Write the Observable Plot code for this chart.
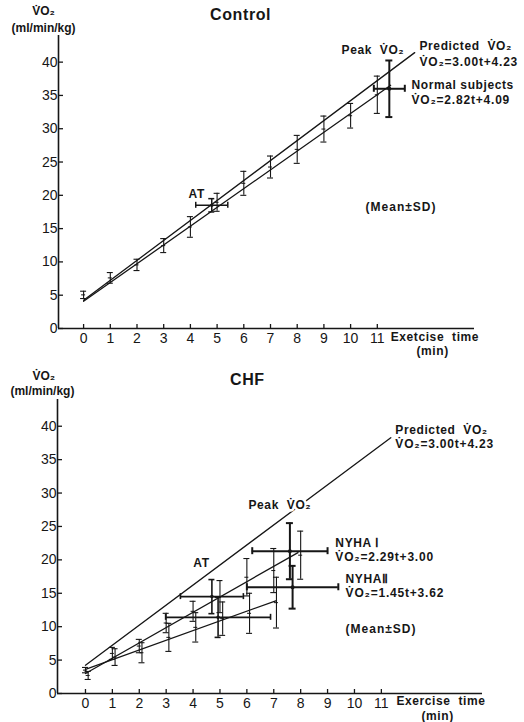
<!DOCTYPE html>
<html>
<head>
<meta charset="utf-8">
<script src="https://cdn.jsdelivr.net/npm/d3@7"></script>
<script src="https://cdn.jsdelivr.net/npm/@observablehq/plot@0.6"></script>
<style>
  html, body { margin: 0; padding: 0; background: #fff; }
  #chart { width: 524px; height: 722px; overflow: hidden; }
  #chart svg { display: block; }
</style>
</head>
<body>
<div id="chart"></div>
<script>
// ---------- Tick labels ----------
const xTicks = [0, 1, 2, 3, 4, 5, 6, 7, 8, 9, 10, 11];
const yTicks = [0, 5, 10, 15, 20, 25, 30, 35, 40];

// ---------- Control panel: normal subjects (mean ± SD per minute) ----------
const ctrlTime = [0, 1, 2, 3, 4, 5, 6, 7, 8, 9, 10, 11];
const ctrlMean = [5.05, 7.6, 9.55, 12.45, 15.25, 18.95, 21.8, 24.25, 26.9, 29.95, 31.95, 35.1];
const ctrlSD   = [0.55, 0.8, 0.85, 1.05, 1.55, 1.35, 1.8, 1.65, 2.1, 1.95, 1.85, 2.8];
// peak and AT (time mean, time SD, VO2 mean, VO2 SD)
const ctrlPeak = [11.45, 0.58, 36.0, 4.25];
const ctrlAT   = [4.8, 0.6, 18.5, 1.0];

// ---------- CHF panel ----------
const nyha1Time = [0, 1, 2, 3, 4, 5, 6, 7, 8];
const nyha1Mean = [3.5, 6.0, 7.1, 10.55, 12.3, 14.5, 17.4, 18.4, 20.7];
const nyha1SD   = [0.4, 0.9, 1.0, 1.45, 1.5, 2.4, 2.8, 3.3, 3.6];
const nyha2Time = [0.1, 1.1, 2.1, 3.1, 4.1, 5.1, 6.1, 7.1];
const nyha2Mean = [2.7, 5.45, 6.1, 8.4, 9.9, 11.2, 12.0, 13.6];
const nyha2SD   = [0.6, 1.25, 1.5, 2.1, 2.2, 2.5, 3.0, 3.8];
const nyha1Peak = [7.6, 1.4, 21.3, 4.2];
const nyha2Peak = [7.7, 1.7, 15.9, 3.2];
const nyha1AT   = [4.7, 1.17, 14.5, 2.55];
const nyha2AT   = [4.93, 1.95, 11.4, 3.0];

// ---------- Regression lines (slope, intercept, last t) ----------
const ctrlLineNames  = ["Predicted", "Normal subjects"];
const ctrlSlopes     = [3.00, 2.82];
const ctrlIntercepts = [4.23, 4.09];
const ctrlLineEnd    = [12.4, 11.5];
const chfLineNames   = ["Predicted", "NYHA I", "NYHA II"];
const chfSlopes      = [3.00, 2.29, 1.45];
const chfIntercepts  = [4.23, 3.00, 3.62];
const chfLineEnd     = [11.35, 7.9, 7.1];

const INK = "#161616";
const FONT = "'Liberation Sans', Arial, Helvetica, sans-serif";
const SPACING = {eq: "0.8px", sp: "0.6px", mean: "1px", title: "0.6px"};

function lineData(names, slopes, intercepts, ends) {
  const out = [];
  names.forEach((n, i) => {
    out.push({name: n, t: 0, v: intercepts[i]});
    out.push({name: n, t: ends[i], v: slopes[i] * ends[i] + intercepts[i]});
  });
  return out;
}
function seriesData(ts, ms, sds) {
  return ts.map((t, i) => ({t, m: ms[i], lo: ms[i] - sds[i], hi: ms[i] + sds[i]}));
}
function vBars(data, sw, cap) {
  return [
    Plot.ruleX(data, {x: "t", y1: "lo", y2: "hi", stroke: INK, strokeWidth: sw}),
    Plot.ruleY(data, {y: "lo", x1: "t", x2: "t", insetLeft: -cap, insetRight: -cap, stroke: INK, strokeWidth: sw}),
    Plot.ruleY(data, {y: "hi", x1: "t", x2: "t", insetLeft: -cap, insetRight: -cap, stroke: INK, strokeWidth: sw}),
    Plot.ruleY(data, {y: "m", x1: "t", x2: "t", insetLeft: -2, insetRight: -2, stroke: INK, strokeWidth: 1})
  ];
}
function crossBar(p, sw, cap, r) {
  const d = [{t: p[0], tlo: p[0] - p[1], thi: p[0] + p[1], m: p[2], lo: p[2] - p[3], hi: p[2] + p[3]}];
  return [
    Plot.ruleX(d, {x: "t", y1: "lo", y2: "hi", stroke: INK, strokeWidth: sw}),
    Plot.ruleY(d, {y: "lo", x1: "t", x2: "t", insetLeft: -cap, insetRight: -cap, stroke: INK, strokeWidth: sw}),
    Plot.ruleY(d, {y: "hi", x1: "t", x2: "t", insetLeft: -cap, insetRight: -cap, stroke: INK, strokeWidth: sw}),
    Plot.ruleY(d, {y: "m", x1: "tlo", x2: "thi", stroke: INK, strokeWidth: sw}),
    Plot.ruleX(d, {x: "tlo", y1: "m", y2: "m", insetTop: -cap, insetBottom: -cap, stroke: INK, strokeWidth: sw}),
    Plot.ruleX(d, {x: "thi", y1: "m", y2: "m", insetTop: -cap, insetBottom: -cap, stroke: INK, strokeWidth: sw}),
    Plot.dot(d, {x: "t", y: "m", r, fill: INK})
  ];
}
function axes(xmin) {
  return [
    Plot.ruleY([0], {stroke: INK, strokeWidth: 1.6}),
    Plot.ruleX([xmin], {stroke: INK, strokeWidth: 1.6}),
    Plot.ruleX(xTicks, {x: d => d, y1: 0, y2: 0, insetTop: -4, stroke: INK, strokeWidth: 1.3}),
    Plot.ruleY(yTicks, {y: d => d, x1: xmin, x2: xmin, insetRight: -5, stroke: INK, strokeWidth: 1.3}),
    Plot.text(xTicks, {x: d => d, y: 0, dy: 10, text: d => String(d), fontSize: 14, fill: INK,
      fontFamily: "'Liberation Sans Narrow', 'Liberation Sans', sans-serif"}),
    Plot.text(yTicks, {x: xmin, y: d => d, dx: -1, textAnchor: "end", text: d => String(d), fontSize: 14, fill: INK,
      fontFamily: "'Liberation Sans Narrow', 'Liberation Sans', sans-serif"})
  ];
}
function label(items, kind, opts = {}) {
  return Plot.text(items, {x: "t", y: "v", text: "s", textAnchor: "start", fontSize: 12,
    fontWeight: "bold", fill: INK, fontFamily: FONT, ariaDescription: kind, ...opts});
}

// ---------- Control panel ----------
const cX = [-0.94, 14.64];
const ctrl = Plot.plot({
  width: 524, height: 361,
  marginLeft: 58, marginRight: 50, marginTop: 35, marginBottom: 33,
  x: {domain: cX, axis: null},
  y: {domain: [0, 44], axis: null},
  style: {background: "#fff", fontFamily: FONT},
  marks: [
    ...axes(cX[0]),
    Plot.line(lineData(ctrlLineNames, ctrlSlopes, ctrlIntercepts, ctrlLineEnd), {x: "t", y: "v", z: "name", stroke: INK, strokeWidth: 1.3}),
    ...vBars(seriesData(ctrlTime, ctrlMean, ctrlSD), 1.1, 3),
    ...crossBar(ctrlAT, 1.5, 3, 1.8),
    ...crossBar(ctrlPeak, 2, 3.5, 2),
    label([{t: 9.66, v: 41.8, s: "Peak  V̇O₂"}], "sp"),
    label([{t: 12.58, v: 42.4, s: "Predicted  V̇O₂"}], "sp"),
    label([{t: 12.58, v: 40.0, s: "V̇O₂=3.00t+4.23"}], "eq"),
    label([{t: 12.28, v: 36.5, s: "Normal subjects"}], "sp"),
    label([{t: 12.28, v: 34.3, s: "V̇O₂=2.82t+4.09"}], "eq"),
    label([{t: 3.93, v: 20.15, s: "AT"}], "sp"),
    label([{t: 10.56, v: 18.2, s: "(Mean±SD)"}], "mean"),
    label([{t: 11.5, v: -1.35, s: "Exetcise  time"}], "sp"),
    label([{t: 13.07, v: -3.46, s: "(min)"}], "sp", {textAnchor: "middle"}),
    label([{t: 5.88, v: 47.1, s: "Control"}], "title", {textAnchor: "middle", fontSize: 16}),
    label([{t: -1.5, v: 47.6, s: "V̇O₂"}], "unit", {textAnchor: "middle"}),
    label([{t: -1.5, v: 45.1, s: "(ml/min/kg)"}], "unit", {textAnchor: "middle"})
  ]
});

// ---------- CHF panel ----------
const hX = [-1.04, 14.76];
const chf = Plot.plot({
  width: 524, height: 361,
  marginLeft: 57, marginRight: 42, marginTop: 38, marginBottom: 29,
  x: {domain: hX, axis: null},
  y: {domain: [0, 44], axis: null},
  style: {background: "#fff", fontFamily: FONT},
  marks: [
    ...axes(hX[0]),
    Plot.line(lineData(chfLineNames, chfSlopes, chfIntercepts, chfLineEnd), {x: "t", y: "v", z: "name", stroke: INK, strokeWidth: 1.3}),
    ...vBars(seriesData(nyha1Time, nyha1Mean, nyha1SD), 1.1, 3),
    ...vBars(seriesData(nyha2Time, nyha2Mean, nyha2SD), 1.1, 3),
    ...crossBar(nyha1AT, 1.6, 3, 1.8),
    ...crossBar(nyha2AT, 1.6, 3, 1.8),
    ...crossBar(nyha1Peak, 2, 3.5, 2),
    ...crossBar(nyha2Peak, 2, 3.5, 2),
    label([{t: 6.06, v: 28.2, s: "Peak  V̇O₂"}], "sp", {stroke: "#fff", strokeWidth: 5}),
    label([{t: 11.52, v: 39.4, s: "Predicted  V̇O₂"}], "sp"),
    label([{t: 11.52, v: 37.3, s: "V̇O₂=3.00t+4.23"}], "eq"),
    label([{t: 4.01, v: 19.5, s: "AT"}], "sp"),
    label([{t: 9.29, v: 22.5, s: "NYHA Ⅰ"}], "sp"),
    label([{t: 9.29, v: 20.4, s: "V̇O₂=2.29t+3.00"}], "eq"),
    label([{t: 9.67, v: 17.1, s: "NYHAⅡ"}], "sp"),
    label([{t: 9.67, v: 15.0, s: "V̇O₂=1.45t+3.62"}], "eq"),
    label([{t: 9.67, v: 9.7, s: "(Mean±SD)"}], "mean"),
    label([{t: 11.56, v: -1.2, s: "Exercise  time"}], "sp"),
    label([{t: 13.09, v: -3.45, s: "(min)"}], "sp", {textAnchor: "middle"}),
    label([{t: 6.02, v: 47.0, s: "CHF"}], "title", {textAnchor: "middle", fontSize: 16}),
    label([{t: -1.55, v: 47.5, s: "V̇O₂"}], "unit", {textAnchor: "middle"}),
    label([{t: -1.6, v: 45.2, s: "(ml/min/kg)"}], "unit", {textAnchor: "middle"})
  ]
});

// apply letter-spacing to the label groups
for (const svg of [ctrl, chf]) {
  svg.querySelectorAll("g[aria-description]").forEach(g => {
    const ls = SPACING[g.getAttribute("aria-description")];
    if (ls) g.querySelectorAll("text").forEach(t => t.style.letterSpacing = ls);
  });
}
document.getElementById("chart").append(ctrl, chf);
</script>
</body>
</html>
